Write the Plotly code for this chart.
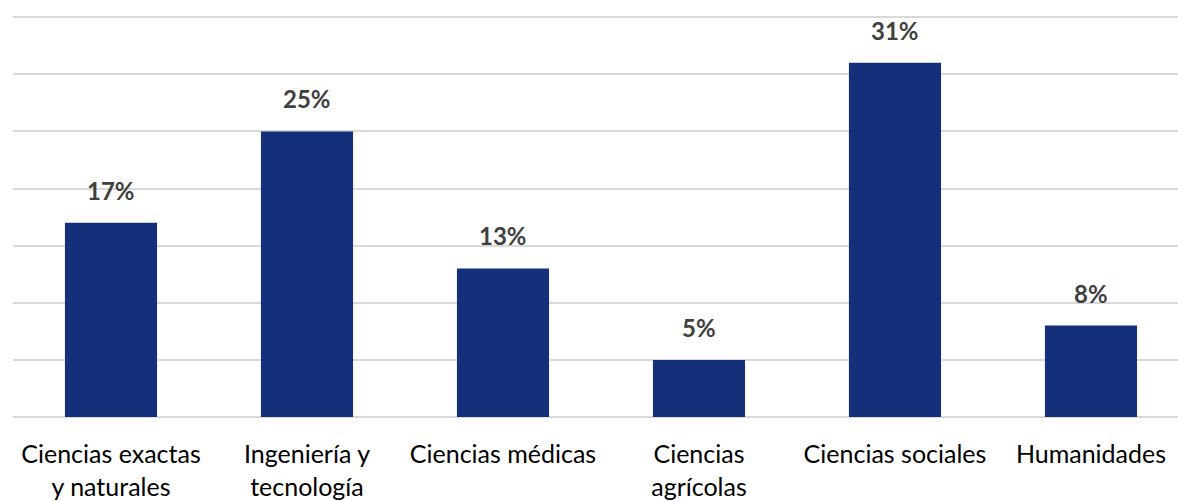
import plotly.graph_objects as go

categories = ["Ciencias exactas<br>y naturales", "Ingeniería y<br>tecnología", "Ciencias médicas",
              "Ciencias<br>agrícolas", "Ciencias sociales", "Humanidades"]
values = [17, 25, 13, 5, 31, 8]
y_ticks = [0, 5, 10, 15, 20, 25, 30, 35]

fig = go.Figure(go.Bar(x=categories, y=values, marker=dict(color="#14307a", line=dict(width=0)),
                       width=0.47, hoverinfo="skip"))

for c, v in zip(categories, values):
    fig.add_annotation(x=c, y=v, text=f"<b>{v}%</b>", showarrow=False, yanchor="bottom", yshift=16,
                       font=dict(family="Lato", size=24, color="#404040"))

fig.update_layout(
    width=1178, height=501, margin=dict(l=13, r=0, t=16, b=82),
    plot_bgcolor="white", paper_bgcolor="white", showlegend=False,
    font=dict(family="Lato", size=25, color="#000000"),
)
fig.update_xaxes(range=[-0.5, 5.444], showline=False, ticks="", tickfont=dict(size=25),
                 ticklabelstandoff=20)
fig.update_yaxes(range=[0, 35.1], tickvals=y_ticks, showticklabels=False, gridcolor="#d9d9d9",
                 gridwidth=2, zeroline=True, zerolinecolor="#d9d9d9", zerolinewidth=2)

fig.write_html("out.html")
